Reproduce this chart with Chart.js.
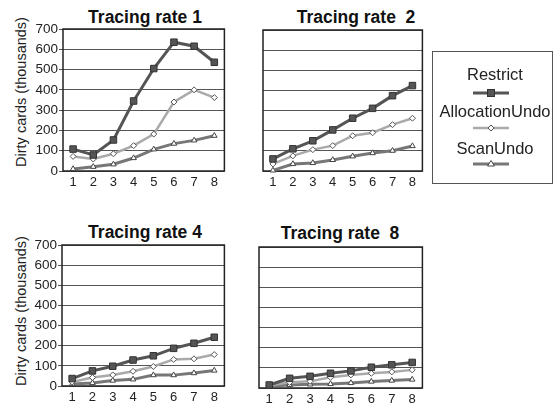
<!DOCTYPE html>
<html>
<head>
<meta charset="utf-8">
<script src="https://cdn.jsdelivr.net/npm/chart.js@4.4.0/dist/chart.umd.min.js"></script>
<style>
  body { margin: 0; background: #fff; width: 556px; height: 404px; position: relative; overflow: hidden;
         font-family: "Liberation Sans", Arial, sans-serif; }
  canvas { position: absolute; }
  .title { position: absolute; width: 220px; text-align: center; font-weight: bold; font-size: 17.5px;
           line-height: 18px; white-space: pre; color: #111; }
  .ytitle { position: absolute; width: 180px; height: 18px; line-height: 18px; text-align: center;
            font-size: 14.5px; color: #222; transform: rotate(-90deg); white-space: nowrap; }
  .legend { position: absolute; left: 432px; top: 51px; width: 119px; height: 131px; border: 1px solid #555; }
  .legend .lab { position: absolute; left: -8px; width: 140px; text-align: center; font-size: 16.5px;
                 line-height: 20px; color: #222; white-space: nowrap; }
  .legend svg { position: absolute; left: 0; top: 0; }
</style>
</head>
<body>
<div class="title" style="left:35px;top:8px;">Tracing rate 1</div>
<div class="title" style="left:246px;top:8px;">Tracing rate  2</div>
<div class="title" style="left:35px;top:223px;">Tracing rate 4</div>
<div class="title" style="left:230px;top:224px;">Tracing rate  8</div>

<div class="ytitle" style="left:-69px;top:83px;">Dirty cards (thousands)</div>
<div class="ytitle" style="left:-69px;top:302px;">Dirty cards (thousands)</div>

<canvas id="p1" width="230" height="172" style="left:0px;top:19px;"></canvas>
<canvas id="p2" width="175" height="171" style="left:253px;top:20px;"></canvas>
<canvas id="p3" width="230" height="171" style="left:0px;top:235px;"></canvas>
<canvas id="p4" width="179" height="171" style="left:249px;top:237px;"></canvas>

<div class="legend">
  <div class="lab" style="top:12px;">Restrict</div>
  <div class="lab" style="top:49px;">AllocationUndo</div>
  <div class="lab" style="top:86px;">ScanUndo</div>
  <svg width="119" height="131">
    <line x1="40" y1="41" x2="76" y2="41" stroke="#555" stroke-width="3"/>
    <rect x="54.5" y="37.5" width="7" height="7" fill="#555" stroke="#333" stroke-width="1"/>
    <line x1="40" y1="76" x2="76" y2="76" stroke="#aaa" stroke-width="2.5"/>
    <polygon points="58,73 61,76 58,79 55,76" fill="#fff" stroke="#555" stroke-width="1"/>
    <line x1="40" y1="112" x2="76" y2="112" stroke="#777" stroke-width="3"/>
    <polygon points="58,108.5 61.5,114 54.5,114" fill="#fff" stroke="#444" stroke-width="1"/>
  </svg>
</div>

<script>
// Processor counts along the x axis
const categories = ['1', '2', '3', '4', '5', '6', '7', '8'];
// Y axis range (thousands of dirty cards)
const yMin = 0;
const yMax = 700;
const yStep = 100;

// Tracing rate 1
const restrict1 = [108, 79, 153, 345, 505, 635, 615, 536];
const alloc1    = [72, 59, 85, 125, 182, 340, 400, 362];
const scan1     = [10, 21, 33, 64, 107, 135, 151, 174];

// Tracing rate 2
const restrict2 = [60, 110, 150, 204, 262, 311, 374, 424];
const alloc2    = [35, 75, 106, 126, 175, 190, 230, 262];
const scan2     = [3, 35, 40, 55, 73, 89, 101, 124];

// Tracing rate 4
const restrict4 = [37, 75, 98, 129, 150, 187, 212, 242];
const alloc4    = [20, 42, 55, 73, 97, 132, 135, 156];
const scan4     = [10, 15, 27, 33, 54, 54, 64, 77];

// Tracing rate 8
const restrict8 = [15, 48, 58, 73, 85, 103, 115, 127];
const alloc8    = [12, 28, 33, 53, 65, 73, 80, 90];
const scan8     = [10, 15, 18, 20, 25, 32, 37, 42];

const FONT = '"Liberation Sans", Arial, sans-serif';

// Black frame around each plot area, drawn under the lines
const framePlugin = {
  id: 'frame',
  beforeDatasetsDraw(chart) {
    const a = chart.chartArea;
    const ctx = chart.ctx;
    ctx.save();
    ctx.strokeStyle = '#222';
    ctx.lineWidth = 1.5;
    ctx.strokeRect(a.left, a.top, a.right - a.left, a.bottom - a.top);
    ctx.restore();
  }
};

function makePanel(id, restrict, alloc, scan, withLabels, yWidth) {
  return new Chart(document.getElementById(id), {
    type: 'line',
    data: {
      labels: categories,
      datasets: [
        { label: 'Restrict', data: restrict, borderColor: '#555', borderWidth: 3,
          pointStyle: 'rect', pointRadius: 4.6, pointBackgroundColor: '#555',
          pointBorderColor: '#333', pointBorderWidth: 1, tension: 0, clip: 8 },
        { label: 'AllocationUndo', data: alloc, borderColor: '#aaa', borderWidth: 2.5,
          pointStyle: 'rectRot', pointRadius: 3, pointBackgroundColor: '#fff',
          pointBorderColor: '#555', pointBorderWidth: 1, tension: 0, clip: 8 },
        { label: 'ScanUndo', data: scan, borderColor: '#777', borderWidth: 3,
          pointStyle: 'triangle', pointRadius: 3.2, pointBackgroundColor: '#fff',
          pointBorderColor: '#444', pointBorderWidth: 1, tension: 0, clip: 8 }
      ]
    },
    options: {
      responsive: false,
      animation: false,
      devicePixelRatio: 1,
      layout: { padding: { top: 10, right: 4, left: 0, bottom: 0 } },
      plugins: { legend: { display: false }, tooltip: { enabled: false }, title: { display: false } },
      scales: {
        x: {
          type: 'category',
          offset: true,
          grid: { display: false, drawTicks: false },
          border: { display: false },
          ticks: { color: '#222', font: { family: FONT, size: 13 }, padding: 4,
                   maxRotation: 0, autoSkip: false },
          afterFit(s) { s.height = 20; }
        },
        y: {
          min: yMin, max: yMax,
          ticks: { stepSize: yStep, display: withLabels, color: '#222',
                   font: { family: FONT, size: 13.5 }, padding: 1 },
          grid: { color: '#555', lineWidth: 1, drawTicks: withLabels, tickLength: 4 },
          border: { display: false },
          afterFit(s) { s.width = yWidth; }
        }
      }
    },
    plugins: [framePlugin]
  });
}

makePanel('p1', restrict1, alloc1, scan1, true, 63);
makePanel('p2', restrict2, alloc2, scan2, false, 10);
makePanel('p3', restrict4, alloc4, scan4, true, 62);
makePanel('p4', restrict8, alloc8, scan8, false, 10);
</script>
</body>
</html>
